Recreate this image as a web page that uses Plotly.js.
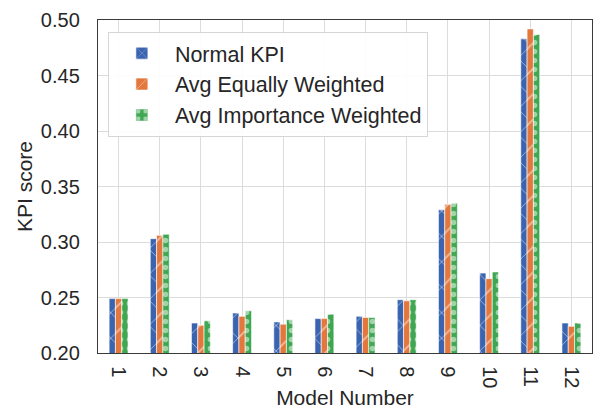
<!DOCTYPE html>
<html>
<head>
<meta charset="utf-8">
<script src="https://cdn.plot.ly/plotly-3.0.1.min.js"></script>
<style>html,body{margin:0;padding:0;background:#fff;}#chart{width:593px;height:413px;}</style>
</head>
<body>
<div id="chart"></div>
<script>
const models = ['1','2','3','4','5','6','7','8','9','10','11','12'];
const normalKPI = [0.249, 0.303, 0.227, 0.236, 0.228, 0.231, 0.233, 0.248, 0.329, 0.272, 0.483, 0.227];
const avgEqual = [0.249, 0.306, 0.225, 0.233, 0.226, 0.231, 0.232, 0.247, 0.334, 0.267, 0.492, 0.224];
const avgImportance = [0.249, 0.307, 0.229, 0.238, 0.230, 0.235, 0.232, 0.248, 0.335, 0.273, 0.487, 0.227];
const seriesNames = ['Normal KPI', 'Avg Equally Weighted', 'Avg Importance Weighted'];
const yTicks = [0.20, 0.25, 0.30, 0.35, 0.40, 0.45, 0.50];

const colors = ['#3b64b0', '#e3773c', '#3fa651'];
const shapes = ['x', '/', '.'];
const sizes = [18, 18, 9];
const solid = [0.1, 0.1, 0.3];
const data = [normalKPI, avgEqual, avgImportance];

const traces = data.map((vals, i) => ({
  type: 'bar',
  x: models,
  y: vals,
  name: seriesNames[i],
  marker: {
    color: colors[i],
    line: {color: 'white', width: 0.6},
    pattern: {shape: shapes[i], fgcolor: 'white', bgcolor: colors[i], size: sizes[i], solidity: solid[i], fillmode: 'overlay'}
  }
}));

const ff = 'Liberation Sans, Arial, sans-serif';
const layout = {
  width: 593, height: 413,
  margin: {l: 98, r: 1, t: 20, b: 60},
  paper_bgcolor: 'white', plot_bgcolor: 'white',
  font: {family: ff, color: '#262626', size: 20},
  barmode: 'group',
  bargap: 0.54,
  bargroupgap: 0,
  showlegend: true,
  legend: {
    x: 0.02, y: 0.965, xanchor: 'left', yanchor: 'top',
    bgcolor: 'rgba(255,255,255,0.9)', bordercolor: '#d6d6d6', borderwidth: 1,
    font: {family: ff, size: 21.5, color: '#262626'},
    tracegroupgap: 1, itemwidth: 56
  },
  xaxis: {
    type: 'category',
    range: [-0.5, 11.5],
    tickangle: 90,
    showgrid: true, gridcolor: '#dcdcdc', gridwidth: 1,
    showline: true, linecolor: '#3a3a3a', linewidth: 1.2, mirror: true,
    ticks: '', ticklabelstandoff: 8,
    tickfont: {size: 20},
    title: {text: 'Model Number', font: {size: 21}, standoff: 2}
  },
  yaxis: {
    range: [0.20, 0.50],
    tickvals: yTicks,
    tickformat: '.2f',
    showgrid: true, gridcolor: '#dcdcdc', gridwidth: 1,
    showline: true, linecolor: '#3a3a3a', linewidth: 1.2, mirror: true,
    zeroline: false,
    ticks: '', ticklabelstandoff: 13,
    tickfont: {size: 20},
    title: {text: 'KPI score', font: {size: 21}, standoff: 2}
  }
};

Plotly.newPlot('chart', traces, layout, {displayModeBar: false, staticPlot: true});
</script>
</body>
</html>
